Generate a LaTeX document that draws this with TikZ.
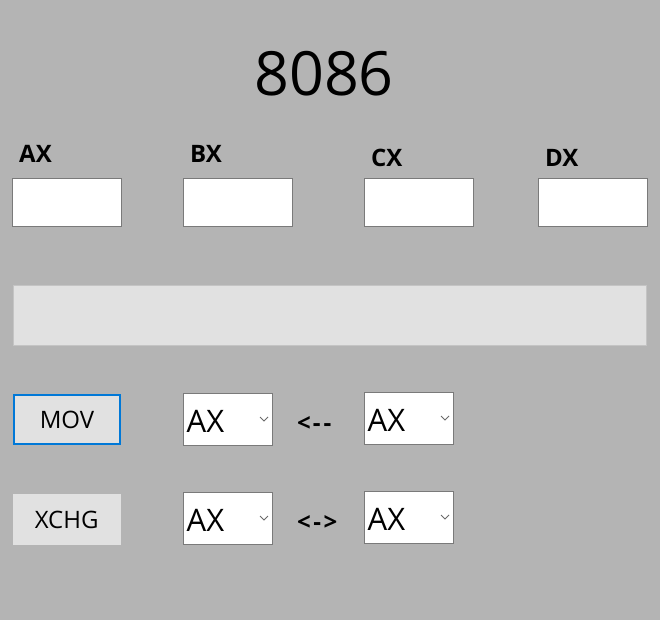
\documentclass[tikz,border=0pt]{standalone}
\usepackage{fontspec}
\setmainfont{Open Sans}
\begin{document}
\begin{tikzpicture}[x=1pt,y=-1pt,
  tbox/.style={draw=boxborder,fill=white,line width=1pt,minimum width=109pt,minimum height=48pt,inner sep=0pt,anchor=north west},
  lbl/.style={font=\fontsize{24}{28}\selectfont\bfseries,anchor=base west,inner sep=0pt},
  btn/.style={fill=btnfill,minimum width=107pt,minimum height=50pt,inner sep=0pt,anchor=north west},
  btntext/.style={font=\fontsize{24}{28}\selectfont,anchor=base,inner sep=0pt},
  combo/.style={draw=boxborder,fill=white,line width=1pt,minimum width=89pt,minimum height=52pt,inner sep=0pt,anchor=north west},
  combotext/.style={font=\fontsize{31}{36}\selectfont,anchor=base west,inner sep=0pt},
  arrowtext/.style={font=\fontsize{24}{28}\selectfont\bfseries,anchor=base west,inner sep=0pt},
  chev/.style={draw=chevcol,line width=0.8pt}
]
\definecolor{formbg}{HTML}{B4B4B4}
\definecolor{boxborder}{HTML}{7A7A7A}
\definecolor{btnfill}{HTML}{E1E1E1}
\definecolor{btnblue}{HTML}{0078D7}
\definecolor{panelborder}{HTML}{C4C4C4}
\definecolor{chevcol}{HTML}{6A6A6A}
\useasboundingbox (0,0) rectangle (660,620);
\fill[formbg] (0,0) rectangle (660,620);

\node[font=\fontsize{61}{66}\selectfont,anchor=base,inner sep=0pt] (title) at (324,96) {8086};

\node[lbl] (lax) at (19,163) {AX};
\node[lbl] (lbx) at (190,163) {BX};
\node[lbl] (lcx) at (371,167) {CX};
\node[lbl] (ldx) at (545,167) {DX};

\node[tbox] (ax) at (12,178) {};
\node[tbox] (bx) at (183,178) {};
\node[tbox] (cx) at (364,178) {};
\node[tbox] (dx) at (538,178) {};

\node[draw=panelborder,fill=btnfill,line width=1pt,minimum width=633pt,minimum height=60pt,inner sep=0pt,anchor=north west] (panel) at (13,285) {};

\node[btn,draw=btnblue,line width=2pt,minimum width=106pt,minimum height=49pt] (mov) at (13,394) {};
\node[btntext] (movt) at ([yshift=-9pt]mov.center) {MOV};
\node[btn,draw=btnfill] (xchg) at (13,494) {};
\node[btntext] (xchgt) at ([yshift=-9pt]xchg.center) {XCHG};

\node[combo] (c1) at (183,393) {};
\node[combo] (c2) at (364,392) {};
\node[combo] (c3) at (183,492) {};
\node[combo] (c4) at (364,491) {};

\foreach \c in {c1,c2,c3,c4}{
  \node[combotext] at ([xshift=3.5pt,yshift=-39pt]\c.north west) {AX};
  \draw[chev] ([xshift=-13pt,yshift=-24pt]\c.north east) -- ([xshift=-9pt,yshift=-28pt]\c.north east) -- ([xshift=-5pt,yshift=-24pt]\c.north east);
}

\node[arrowtext] (a1) at (297,431) {<\kern2pt-\kern3pt-};
\node[arrowtext] (a2) at (297,530) {<\kern2.5pt-\kern2.5pt>};
\end{tikzpicture}
\end{document}
